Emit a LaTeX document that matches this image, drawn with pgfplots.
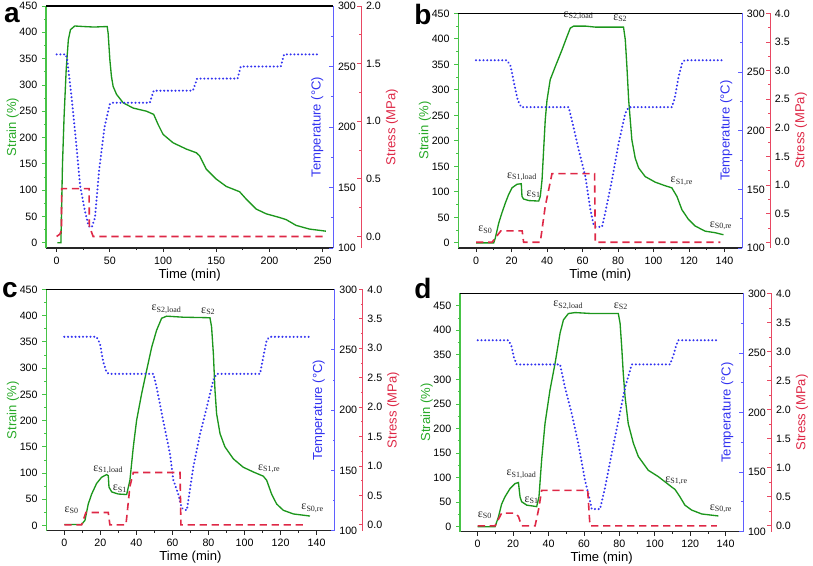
\documentclass[border=0pt]{standalone}
\usepackage{fontspec}
\setmainfont{Liberation Sans}
\newfontfamily\serif{Liberation Serif}
\usepackage{pgfplots}
\pgfplotsset{compat=1.18}
\definecolor{strainc}{RGB}{28,150,28}
\definecolor{straxis}{RGB}{70,195,70}
\definecolor{strlab}{RGB}{40,170,40}
\definecolor{tempc}{RGB}{50,50,240}
\definecolor{tempaxis}{RGB}{95,95,255}
\definecolor{stressc}{RGB}{222,40,70}
\definecolor{stressaxis}{RGB}{232,72,98}
\newcommand\tickfont{\fontsize{8}{9}\selectfont}
\newcommand\labfont{\fontsize{9.8}{11}\selectfont}
\newcommand\annfont{\serif\fontsize{9}{9}\selectfont}
\newcommand\panfont{\fontsize{21}{21}\selectfont\bfseries}
\pgfplotsset{
 common/.style={scale only axis, anchor=south west, clip=false,
   /pgf/number format/assume math mode=true,
   tick label style={font=\tickfont, text=black},
   major tick length=3pt, minor tick length=1.6pt,
   every tick/.append style={line width=0.6pt},
   axis line style={line width=0.8pt},
 },
 strainax/.style={common,
   axis x line*=bottom, axis y line*=left,
   x axis line style={black!85},
   y axis line style={straxis},
   ytick style={straxis}, xtick style={black!85},
   tick align=outside,
   minor x tick num=1, minor y tick num=1,
   ymin=-10, ytick={0,50,...,450},
 },
 tempax/.style={common,
   axis x line*=top, axis y line*=right, xtick=\empty,
   x axis line style={black},
   y axis line style={tempaxis}, ytick style={tempaxis},
   tick align=inside,
   ymin=100, ymax=300, ytick={100,150,...,300}, minor y tick num=1,
 },
 stressax/.style={common,
   axis y line*=right, hide x axis,
   y axis line style={stressaxis, xshift=21pt},
   ytick style={stressaxis, xshift=21pt},
   yticklabel style={xshift=21pt, /pgf/number format/fixed, /pgf/number format/fixed zerofill, /pgf/number format/precision=1},
   tick align=inside, minor y tick num=1, ymin=-0.1,
 },
 strainline/.style={strainc, line width=1pt},
 templine/.style={tempc, line width=1.7pt, dash pattern=on 0.01pt off 2.8pt, line cap=round},
 stressline/.style={stressc, line width=1.2pt, dash pattern=on 5.5pt off 3.5pt},
}
\newcommand\strainlabels{%
 \node[rotate=90, text=strlab, font=\labfont] at ([xshift=-25pt]rel axis cs:0,0.5) {Strain (\%)};
 \node[font=\labfont] at ([yshift=-20pt]rel axis cs:0.5,0) {Time (min)};}
\newcommand\templabel{\node[rotate=90, text=tempc, font=\labfont] at ([xshift=-12pt]rel axis cs:1,0.5) {Temperature (°C)};}
\newcommand\stresslabel{\node[rotate=90, text=stressc, font=\labfont] at ([xshift=44pt]rel axis cs:1,0.5) {Stress (MPa)};}
\newcommand\ann[3]{\node[font=\annfont, text=black!85] at (axis cs:#1,#2) {ε\textsubscript{#3}};}
\begin{document}
\begin{tikzpicture}
\useasboundingbox (0,0) rectangle (609.75pt,423.75pt);
% ---------------- panel a
\begin{axis}[strainax, at={(34.5pt,237.75pt)}, width=215.5pt, height=181.5pt, xmin=-10, xmax=260, ymax=450, xtick={0,50,...,250}]
\addplot[strainline] coordinates {(0.6,0) (4,0) (4.5,50) (5.5,150) (7,240) (9,330) (11,386) (13,405) (17,412) (25,411) (35,410) (47.5,411) (48.4,398) (50,348) (51.5,316) (53.1,297) (56.3,282) (62.5,266) (71.9,256) (84.4,250) (91.2,244) (95.3,225) (100,206) (109.4,190) (121.9,178) (131.3,171) (134.4,165) (140.6,140) (150,121) (159.4,107) (171.9,97) (178.1,83) (187.5,64) (196.9,55) (209.4,48) (215.6,44) (225,33) (237.5,26) (253,22)};
\strainlabels
\end{axis}
\begin{axis}[tempax, at={(34.5pt,237.75pt)}, width=215.5pt, height=181.5pt, xmin=-10, xmax=260]
\addplot[templine] coordinates {(0,260) (8.7,260) (10,255) (14,225) (18,190) (22,152) (26,133) (30,118) (33,117) (36,125) (40,165) (45,200) (50,219) (52,220) (87.5,220) (91.2,230) (128,230) (132,240) (170,240) (173,250) (210.6,250) (213.7,260) (247,260)};
\templabel
\end{axis}
\begin{axis}[stressax, at={(34.5pt,237.75pt)}, width=215.5pt, height=181.5pt, xmin=-10, xmax=260, ymax=2, ytick={0,0.5,...,2}]
\addplot[stressline] coordinates {(0,0) (3,0.02) (4.5,0.05) (4.7,0.415) (30.5,0.415) (30.7,0.09) (34.3,0) (250,0)};
\stresslabel
\end{axis}
% ---------------- panel b
\begin{axis}[strainax, at={(343.7pt,237.75pt)}, width=213pt, height=176pt, xmin=-10, xmax=150, ymax=450, xtick={0,20,...,140}]
\addplot[strainline] coordinates {(0,0) (9.95,0) (10.9,10) (12.8,39) (14.6,59) (16.5,78) (18.4,95) (20.3,108) (23.1,115) (25.5,116) (25.9,91) (26.8,86) (29.7,83) (35.3,82) (36.2,91) (37.2,124) (38.1,183) (39.0,241) (40.0,280) (41.8,320) (44.7,346) (48.4,378) (51.2,404) (53.1,421) (55.0,425) (61.6,425) (67.2,423) (83.1,423) (84.1,398) (85.0,346) (86.0,280) (86.9,241) (87.8,202) (89.7,166) (91.6,147) (95.3,130) (101,119) (106.6,112) (110.3,108) (113.2,91) (116,65) (119.7,46) (123.5,33) (129.1,23) (134.7,20) (139.4,16)};
\strainlabels
\ann{5.3}{26}{S0}
\ann{25.9}{130}{S1,load}
\ann{32.5}{96}{S1}
\ann{57.8}{445}{S2,load}
\ann{81.3}{440}{S2}
\ann{116}{121}{S1,re}
\ann{138}{33}{S0,re}
\end{axis}
\begin{axis}[tempax, at={(343.7pt,237.75pt)}, width=213pt, height=176pt, xmin=-10, xmax=150]
\addplot[templine] coordinates {(0,260) (17.5,260) (19.5,255) (21.5,240) (23.5,226) (25.5,220) (52.2,220) (54,209) (57.8,184) (61.6,161) (64.4,133) (66.2,120) (67.5,118) (71,118) (72.8,130) (76.6,158) (80.3,189) (84.1,215) (86,220) (110.3,220) (112,228) (114,245) (116,257) (117.5,260) (139.4,260)};
\templabel
\end{axis}
\begin{axis}[stressax, at={(343.7pt,237.75pt)}, width=213pt, height=176pt, xmin=-10, xmax=150, ymax=4, ytick={0,0.5,...,4}]
\addplot[stressline] coordinates {(0,0) (9,0) (14,0.2) (26,0.2) (26.8,0) (36.2,0) (39,0.63) (42.8,1.2) (66.8,1.2) (67.2,0) (137.6,0)};
\stresslabel
\end{axis}
% ---------------- panel c
\begin{axis}[strainax, at={(34.7pt,25.7pt)}, width=216.3pt, height=181pt, xmin=-10, xmax=150, ymax=450, xtick={0,20,...,140}]
\addplot[strainline] coordinates {(0,2) (9.6,2) (11.5,10) (13.3,41) (15.2,60) (17.9,80) (20.7,92) (23.5,97) (24.4,95) (24.8,73) (26.3,64) (29.9,60) (34.6,59) (36.4,86) (38.3,150) (40.1,200) (42.9,251) (45.7,296) (48.5,340) (51.2,372) (54.0,395) (56.8,399) (66,397) (80.8,396) (81.7,379) (82.7,328) (83.6,258) (84.5,213) (86.4,175) (89.1,150) (93.8,127) (99.3,111) (104.9,102) (110.4,94) (112.3,86) (115,60) (117.8,41) (121.5,29) (127.1,22) (136.3,18)};
\strainlabels
\ann{4.1}{29}{S0}
\ann{24.4}{106}{S1,load}
\ann{30.9}{70}{S1}
\ann{56.8}{412}{S2,load}
\ann{79.9}{409}{S2}
\ann{113.7}{108}{S1,re}
\ann{137.8}{33}{S0,re}
\end{axis}
\begin{axis}[tempax, at={(34.7pt,25.7pt)}, width=216.3pt, height=181pt, xmin=-10, xmax=150]
\addplot[templine] coordinates {(0,260.7) (17.9,260.7) (19.8,255) (21.6,240) (23.5,231) (25,230) (49.4,230) (51.2,219) (54.9,191) (58.6,164) (60.5,142) (63.3,130) (65.1,119) (66,118) (68,117) (71.6,153) (75.3,180) (79,202) (82.7,225) (84.5,230) (108.6,230) (110.4,244) (112.3,258) (114,260.7) (136.3,260.7)};
\templabel
\end{axis}
\begin{axis}[stressax, at={(34.7pt,25.7pt)}, width=216.3pt, height=181pt, xmin=-10, xmax=150, ymax=4, ytick={0,0.5,...,4}]
\addplot[stressline] coordinates {(0,0) (9.6,0) (12,0.21) (24.4,0.21) (25.3,0) (34.2,0) (36.4,0.65) (38.3,0.89) (64.2,0.89) (64.7,0) (133.5,0)};
\stresslabel
\end{axis}
% ---------------- panel d
\begin{axis}[strainax, at={(345pt,25pt)}, width=212.5pt, height=178.7pt, xmin=-10, xmax=150, ymax=475, xtick={0,20,...,140}]
\addplot[strainline] coordinates {(0,0) (9.8,0) (11.7,20) (13.5,46) (15.4,61) (18.3,78) (21.1,88) (23,90) (23.9,61) (24.8,51) (27.7,44) (33.3,41) (34.6,61) (36.1,136) (38,210) (40.8,278) (43.7,333) (46.5,394) (48.4,421) (51.2,434) (55,436) (64.4,434) (79.4,434) (80.4,414) (81.3,367) (82.2,312) (83.2,265) (85,210) (87.9,170) (90.7,143) (96.3,115) (102,102) (109.5,81) (111.4,76) (114.2,61) (117,44) (120.8,34) (126.5,26) (135.9,22)};
\strainlabels
\ann{4.1}{24}{S0}
\ann{24.8}{107}{S1,load}
\ann{30.5}{54}{S1}
\ann{51.2}{451}{S2,load}
\ann{80.9}{449}{S2}
\ann{112.3}{93}{S1,re}
\ann{137.4}{37}{S0,re}
\end{axis}
\begin{axis}[tempax, at={(345pt,25pt)}, width=212.5pt, height=178.7pt, xmin=-10, xmax=150]
\addplot[templine] coordinates {(0,260.7) (17.3,260.7) (19,256) (20.5,246) (22,240.4) (46.5,240.4) (49.3,221) (53.1,199) (56.8,174) (60.6,143) (63.4,126) (64.4,119) (69.1,119) (71.9,137) (75.6,165) (79.4,193) (83.2,221) (87,240.4) (108.6,240.4) (110.5,248) (112,256) (113.3,260.7) (135,260.7)};
\templabel
\end{axis}
\begin{axis}[stressax, at={(345pt,25pt)}, width=212.5pt, height=178.7pt, xmin=-10, xmax=150, ymax=4, ytick={0,0.5,...,4}]
\addplot[stressline] coordinates {(0,0) (9.8,0) (13.5,0.22) (21.1,0.22) (23,0.16) (24.8,0) (32.4,0) (34.5,0.3) (36.1,0.61) (62.1,0.61) (63.4,0) (135,0)};
\stresslabel
\end{axis}
% panel letters
\node[font=\panfont] at (9pt,412.5pt) {a};
\node[font=\panfont] at (317.25pt,413.25pt) {b};
\node[font=\panfont] at (7.5pt,206.25pt) {c};
\node[font=\panfont] at (317.25pt,207.75pt) {d};
\end{tikzpicture}
\end{document}
